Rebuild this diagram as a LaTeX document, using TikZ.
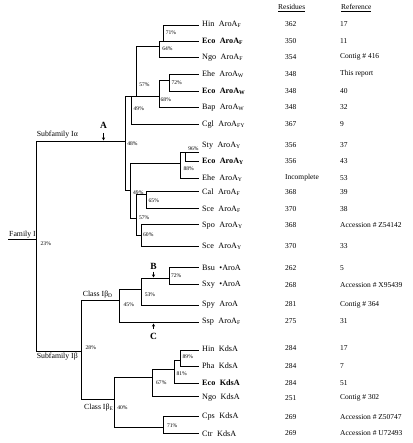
\documentclass[tikz,border=0pt]{standalone}
\usepackage{fontspec}
\setmainfont{Liberation Serif}
\usetikzlibrary{arrows.meta}
\newcommand\spgap{\hspace{4.5pt}}
\begin{document}
\begin{tikzpicture}[x=1bp,y=-1bp,
  br/.style={line width=1.5bp, line cap=rect},
  lab/.style={font=\fontsize{7.5}{8}\selectfont, inner sep=0pt, anchor=west},
  nmlab/.style={font=\fontsize{8.2}{9}\selectfont, inner sep=0pt, anchor=west},
  grp/.style={font=\fontsize{7.8}{8}\selectfont, inner sep=0pt, anchor=west},
  pct/.style={font=\fontsize{5.6}{6}\selectfont, inner sep=0pt},
  big/.style={font=\fontsize{9.5}{10}\selectfont\bfseries, inner sep=0pt},
  ptr/.style={line width=0.7bp, -{Stealth[length=3bp,width=3bp]}}]
\useasboundingbox[fill=white] (0,0) rectangle (412,443);

% headers
\node[lab] (hres) at (278,8.3) {\underline{Residues}};
\node[lab] (hrf) at (341,8.3) {\underline{Reference}};

% leaves: index / leaf y / text y / name / residues / reference
\foreach \n/\y/\ty/\nm/\res/\rf in {
 1/25.5/24.5/{Hin\spgap AroA\textsubscript{F}}/362/17,
 2/41.5/41/{\bfseries Eco\spgap AroA\textsubscript{F}}/350/11,
 3/57.5/57.3/{Ngo\spgap AroA\textsubscript{F}}/354/{Contig \# 416},
 4/74.5/74/{Ehe\spgap AroA\textsubscript{W}}/348/{This report},
 5/91.5/91/{\bfseries Eco\spgap AroA\textsubscript{W}}/348/40,
 6/107.5/107.5/{Bap\spgap AroA\textsubscript{W}}/348/32,
 7/124.5/124.3/{Cgl\spgap AroA\textsubscript{FY}}/367/9,
 8/152.5/145.5/{Sty\spgap AroA\textsubscript{Y}}/356/37,
 9/161.5/161.5/{\bfseries Eco\spgap AroA\textsubscript{Y}}/356/43,
 10/178.5/178/{Ehe\spgap AroA\textsubscript{Y}}/Incomplete/53,
 11/191.5/192.5/{Cal\spgap AroA\textsubscript{F}}/368/39,
 12/208.5/209/{Sce\spgap AroA\textsubscript{F}}/370/38,
 13/224.5/225.5/{Spo\spgap AroA\textsubscript{Y}}/368/{Accession \# Z54142},
 14/246.5/246/{Sce\spgap AroA\textsubscript{Y}}/370/33,
 15/267.5/268/{Bsu\spgap\textbullet AroA}/262/5,
 16/284.5/285/{Sxy\spgap\textbullet AroA}/268/{Accession \# X95439},
 17/305.5/304.5/{Spy\spgap AroA}/281/{Contig \# 364},
 18/322.5/321.5/{Ssp\spgap AroA\textsubscript{F}}/275/31,
 19/350.5/348.5/{Hin\spgap KdsA}/284/17,
 20/366.5/366/{Pha\spgap KdsA}/284/7,
 21/383.5/383/{\bfseries Eco\spgap KdsA}/284/51,
 22/396.5/398/{Ngo\spgap KdsA}/251/{Contig \# 302},
 23/416.5/416.7/{Cps\spgap KdsA}/269/{Accession \# Z50747},
 24/433.5/433.3/{Ctr\spgap KdsA}/269/{Accession \# U72493}}
{
 \coordinate (L\n) at (198.5,\y);
 \node[nmlab] (nm\n) at (202,\ty) {\nm};
 \node[lab] (rs\n) at (285,\ty) {\res};
 \node[lab] (rf\n) at (340,\ty) {\rf};
}

% internal nodes
\coordinate (n71) at (163.5,41.5);
\coordinate (n64) at (159.5,46.5);
\coordinate (n72) at (169.5,80.5);
\coordinate (n68) at (159.5,96.5);
\coordinate (n57) at (136.5,96.5);
\coordinate (n49a) at (131.5,96.5);
\coordinate (n96) at (185.5,152.5);
\coordinate (n88) at (180.5,163.5);
\coordinate (n65) at (146.5,194.5);
\coordinate (n60) at (141.5,235.5);
\coordinate (n57b) at (136.5,218.5);
\coordinate (n49b) at (130.5,190.5);
\coordinate (n48) at (125.5,141.5);
\coordinate (root) at (36.5,239.5);
\coordinate (r0) at (8.5,239.5);
\coordinate (n72b) at (169.5,278.5);
\coordinate (n53) at (141.5,289.5);
\coordinate (n45) at (119.5,300.5);
\coordinate (n89) at (180.5,360.5);
\coordinate (n81) at (174.5,369.5);
\coordinate (n67) at (152.5,377.5);
\coordinate (n71b) at (163.5,427.5);
\coordinate (n40) at (114.5,399.5);
\coordinate (n28) at (81.5,351.5);

% branches
\draw[br] (r0) -- (root);
\foreach \p/\c in {root/n48, root/n28,
  n48/n49a, n48/n49b,
  n49a/n57, n49a/L7,
  n57/n64, n57/n68,
  n64/n71, n64/L3,
  n71/L1, n71/L2,
  n68/n72, n68/L6,
  n72/L4, n72/L5,
  n49b/n88, n49b/n57b,
  n88/n96, n88/L10,
  n96/L8, n96/L9,
  n57b/n65, n57b/n60,
  n65/L11, n65/L12,
  n60/L13, n60/L14,
  n28/n45, n28/n40,
  n45/n53, n45/L18,
  n53/n72b, n53/L17,
  n72b/L15, n72b/L16,
  n40/n67, n40/n71b,
  n67/n81, n67/L22,
  n81/n89, n81/L21,
  n89/L19, n89/L20,
  n71b/L23, n71b/L24}
  {\draw[br] (\p) |- (\c);}

% bootstrap percentages
\foreach \i/\x/\y/\t in {
  a/171/32.7/71, b/167.5/48.3/64, c/144.5/85/57, d/176.7/82.7/72,
  e/165.8/99.3/68, f/138.8/108.3/49, g/132.5/143.8/48, h/193.5/149/96,
  k/188.7/168.3/88, l/138.3/192.7/49, m/153.8/200.7/65, o/144.2/217.3/57,
  q/148.3/235/60, s/45.8/244/23, t/176.2/276/72, u/150/295/53,
  v/128.8/304.3/45, w/90.8/347.7/28, z/187.8/356.7/89, aa/181.7/374/81,
  ab/161.3/382.7/67, ac/122.5/407.7/40, ad/172.2/425.7/71}
  {\node[pct] (pc\i) at (\x,\y) {\t\%};}

% group labels
\node[grp] (gIa) at (36.7,135) {Subfamily Iα};
\node[grp] (gF) at (9,234.5) {Family I};
\node[grp] (gD) at (82.7,295) {Class Iβ\textsubscript{D}};
\node[grp] (gIb) at (36.7,357) {Subfamily Iβ};
\node[grp] (gE) at (84,407.5) {Class Iβ\textsubscript{E}};

% pointers A, B, C
\coordinate (Aend) at (103.5,140.5);
\coordinate (Bend) at (153.5,277.5);
\coordinate (Cend) at (153.5,323.5);
\node[big] (A) at (103.5,125) {A};
\node[big] (B) at (153.5,266.7) {B};
\node[big] (C) at (153.5,336.7) {C};
\draw[ptr] ([yshift=-4.5bp]A.south) -- (Aend);
\draw[ptr] ([yshift=-1.5bp]B.south) -- (Bend);
\draw[ptr] ([yshift=4.5bp]C.north) -- (Cend);
\end{tikzpicture}
\end{document}
